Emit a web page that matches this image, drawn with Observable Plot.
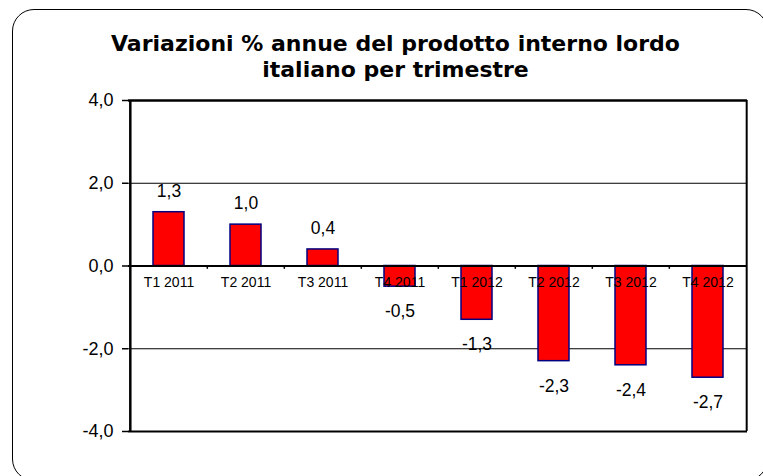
<!DOCTYPE html>
<html>
<head>
<meta charset="utf-8">
<script src="https://cdn.jsdelivr.net/npm/d3@7"></script>
<script src="https://cdn.jsdelivr.net/npm/@observablehq/plot@0.6"></script>
<style>
  html, body { margin: 0; padding: 0; background: #fff; }
  #wrap { position: relative; width: 763px; height: 476px; overflow: hidden; }
  #frame { position: absolute; left: 12px; top: 9px; width: 756px; height: 472px;
           border: 1.5px solid #000; border-radius: 22px; box-sizing: border-box; }
  #title { position: absolute; left: 14px; top: 31px; width: 763px; text-align: center;
           font-family: "DejaVu Sans"; font-weight: bold; font-size: 22px;
           line-height: 26px; color: #000; white-space: nowrap; }
  #chart { position: absolute; left: 0; top: 90px; }
</style>
</head>
<body>
<div id="wrap">
  <div id="frame"></div>
  <div id="title">Variazioni % annue del prodotto interno lordo<br>italiano per trimestre</div>
  <div id="chart"></div>
</div>
<script>
const categories = ["T1 2011", "T2 2011", "T3 2011", "T4 2011", "T1 2012", "T2 2012", "T3 2012", "T4 2012"];
const values = [1.3, 1.0, 0.4, -0.5, -1.3, -2.3, -2.4, -2.7];
const yTicks = [-4, -2, 0, 2, 4];

const data = categories.map((c, i) => ({cat: c, value: values[i]}));
const fmt = v => v.toFixed(1).replace(".", ",");
const font = "Liberation Sans, Arial, sans-serif";
const half = 619 / 16;

const chart = Plot.plot({
  width: 763,
  height: 386,
  marginTop: 10,
  marginBottom: 45,
  marginLeft: 128,
  marginRight: 16,
  style: {fontFamily: font, background: "transparent"},
  x: {domain: categories, padding: 0, axis: null},
  y: {domain: [-4, 4], axis: null},
  marks: [
    Plot.ruleY([2, -2], {stroke: "#000", strokeWidth: 1}),
    Plot.barY(data, {x: "cat", y: "value", fill: "#ff0000", stroke: "#000080", strokeWidth: 1.5, insetLeft: 23, insetRight: 23}),
    Plot.ruleY([0], {stroke: "#000", strokeWidth: 2}),
    Plot.ruleX(categories.slice(1), {y1: 0, y2: -0.08, dx: -half, stroke: "#000", strokeWidth: 1.5}),
    Plot.ruleY([4], {stroke: "#000", strokeWidth: 2.5}),
    Plot.ruleY([-4], {stroke: "#000", strokeWidth: 2}),
    Plot.ruleX([categories[0]], {y1: -4, y2: 4, dx: -half, stroke: "#000", strokeWidth: 2.5}),
    Plot.ruleX([categories[categories.length - 1]], {y1: -4, y2: 4, dx: half, stroke: "#000", strokeWidth: 2}),
    Plot.axisY({ticks: yTicks, tickFormat: fmt, label: null, tickSize: 6, tickPadding: 9, fontSize: 18, stroke: "#000", strokeWidth: 1.5, fill: "#000"}),
    Plot.text(data, {x: "cat", y: 0, text: "cat", dy: 17, fontSize: 14, fill: "#000"}),
    Plot.text(data.filter(d => d.value >= 0), {x: "cat", y: "value", text: d => fmt(d.value), dy: -21, fontSize: 17.5, fill: "#000"}),
    Plot.text(data.filter(d => d.value < 0), {x: "cat", y: "value", text: d => fmt(d.value), dy: 25, fontSize: 17.5, fill: "#000"})
  ]
});
document.getElementById("chart").appendChild(chart);
</script>
</body>
</html>
